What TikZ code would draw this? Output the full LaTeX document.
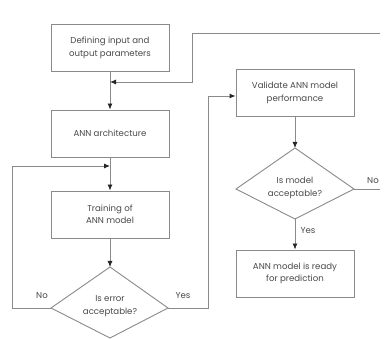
\documentclass[tikz,border=0pt]{standalone}
\usepackage{fontspec}
\setmainfont{Poppins}
\usetikzlibrary{arrows.meta}
\definecolor{linegray}{HTML}{8A8A8A}
\definecolor{textgray}{HTML}{4A4A4A}
\tikzset{
  box/.style={draw=linegray, line width=0.9pt, minimum width=118pt, minimum height=47pt, inner sep=0pt,
    align=center, text=textgray, font=\fontsize{8.6}{12.5}\selectfont},
  dtext/.style={text=textgray, align=center, font=\fontsize{8.6}{12.5}\selectfont, inner sep=0pt},
  lbl/.style={text=textgray, font=\fontsize{8.6}{10}\selectfont, inner sep=0pt},
  dia/.style={draw=linegray, line width=0.9pt},
  conn/.style={draw=linegray, line width=0.9pt},
  arr/.style={conn, -{Latex[length=6pt,width=5pt,color=black!85]}}
}
\begin{document}
\begin{tikzpicture}[x=1pt,y=-1pt]
\path[use as bounding box, fill=white] (0,0) rectangle (384,339);

% boxes
\node[box] (b1) at (110,48) {Defining input and\\output parameters};
\node[box] (b2) at (110,133.5) {ANN architecture};
\node[box] (b3) at (110,214.5) {Training of\\ANN model};
\node[box] (b4) at (295,93) {Validate ANN model\\performance};
\node[box] (b5) at (295,273.5) {ANN model is ready\\for prediction};

% diamond 1
\coordinate (d1t) at (110,267);
\coordinate (d1l) at (51,308);
\coordinate (d1r) at (168,308);
\coordinate (d1b) at (110,338);
\draw[dia] (d1t) -- (d1r) -- (d1b) -- (d1l) -- cycle;
\node[dtext] (d1) at (110,306) {Is error\\acceptable?};

% diamond 2
\coordinate (d2t) at (295,148);
\coordinate (d2l) at (236,189);
\coordinate (d2r) at (354,189);
\coordinate (d2b) at (295,219);
\draw[dia] (d2t) -- (d2r) -- (d2b) -- (d2l) -- cycle;
\node[dtext] (d2) at (295,188) {Is model\\acceptable?};

% connectors
\draw[arr] (b1.south) -- (b2.north);
\draw[arr] (b2.south) -- (b3.north);
\draw[arr] (b3.south) -- (d1t);
\draw[arr] (b4.south) -- (d2t);
\draw[arr] (d2b) -- (b5.north);

% No loop from diamond 1
\coordinate (nl) at (12,166);
\draw[arr] (d1l) -| (nl) -- (b2.south |- nl);

% Yes from diamond 1 to validate
\coordinate (yr) at (208,96);
\draw[arr] (d1r) -| (yr) -- (yr -| b4.west);

% No from diamond 2 back to top (continues beyond the picture edge)
\coordinate (edge2) at (380,189);
\draw[conn] (d2r) -- (edge2);
\coordinate (fb1) at (380,33);
\coordinate (fb2) at (192,33);
\coordinate (fb3) at (192,82);
\draw[arr] (fb1) -- (fb2) -- (fb3) -- (fb3 -| b1.south);

% labels
\node[lbl] (lno1) at (42,296) {No};
\node[lbl] (lyes1) at (183,296) {Yes};
\node[lbl] (lno2) at (373,181) {No};
\node[lbl] (lyes2) at (308,231) {Yes};
\end{tikzpicture}
\end{document}
